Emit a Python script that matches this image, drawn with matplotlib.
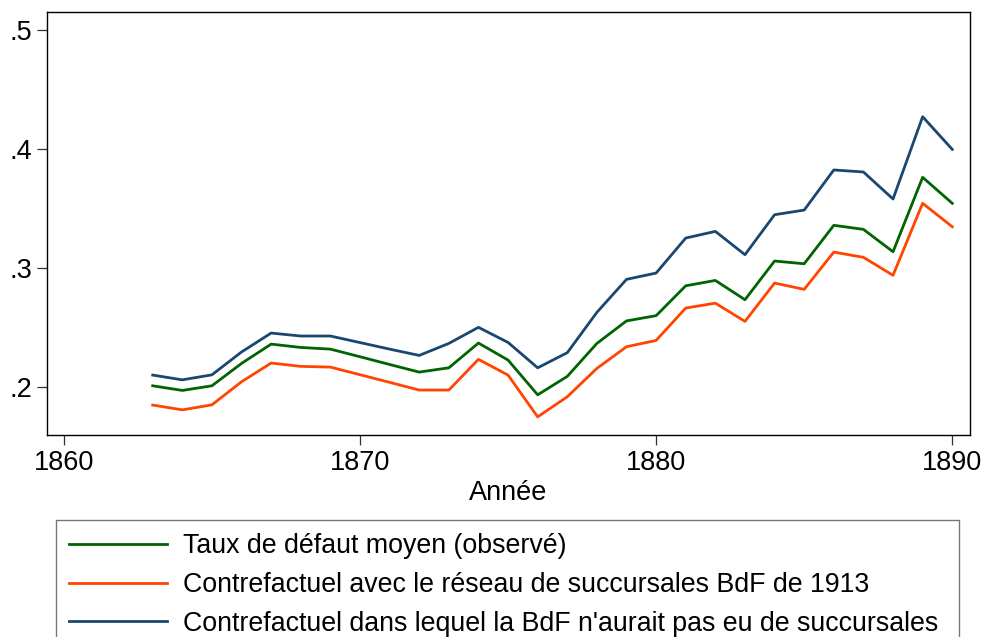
import matplotlib
matplotlib.use("Agg")
import matplotlib.pyplot as plt

plt.rcParams['font.family'] = ['Liberation Sans', 'DejaVu Sans']

years = list(range(1863, 1891))

observed = [0.2011, 0.1972, 0.2011, 0.2199, 0.2361, 0.2333, 0.2319, 0.2255, 0.2190,
            0.2126, 0.2162, 0.2370, 0.2227, 0.1935, 0.2090, 0.2367, 0.2556, 0.2600,
            0.2851, 0.2896, 0.2734, 0.3059, 0.3036, 0.3359, 0.3325, 0.3137, 0.3762, 0.3544]

network_1913 = [0.1849, 0.1809, 0.1851, 0.2045, 0.2202, 0.2174, 0.2168, 0.2104, 0.2040,
                0.1975, 0.1975, 0.2233, 0.2101, 0.1750, 0.1919, 0.2157, 0.2339, 0.2392,
                0.2664, 0.2705, 0.2552, 0.2874, 0.2821, 0.3134, 0.3090, 0.2939, 0.3544, 0.3347]

no_branches = [0.2101, 0.2061, 0.2103, 0.2295, 0.2454, 0.2429, 0.2429, 0.2374, 0.2319,
               0.2266, 0.2367, 0.2502, 0.2375, 0.2162, 0.2289, 0.2628, 0.2905, 0.2958,
               0.3252, 0.3308, 0.3112, 0.3448, 0.3487, 0.3824, 0.3807, 0.3580, 0.4271, 0.3997]

labels = ["Taux de défaut moyen (observé)",
          "Contrefactuel avec le réseau de succursales BdF de 1913",
          "Contrefactuel dans lequel la BdF n'aurait pas eu de succursales"]

fig = plt.figure(figsize=(9.83, 6.37), dpi=100)
ax = fig.add_axes([0.0478, 0.317, 0.939, 0.664])

ax.plot(years, observed, color='#006400', lw=2.0, label=labels[0])
ax.plot(years, network_1913, color='#ff4500', lw=2.0, label=labels[1])
ax.plot(years, no_branches, color='#1a476f', lw=2.0, label=labels[2])

ax.set_xlim(1859.43, 1890.6)
ax.set_ylim(0.1597, 0.515)
ax.set_xticks([1860, 1870, 1880, 1890])
ax.set_yticks([0.2, 0.3, 0.4, 0.5])
ax.set_yticklabels(['.2', '.3', '.4', '.5'])
ax.tick_params(labelsize=19.5, length=7, width=0.9, color='#333333', direction='out')
ax.set_xlabel("Année", fontsize=19.5, labelpad=3)
for s in ax.spines.values():
    s.set_linewidth(1.0)

top = 1 - 520/637
leg = fig.legend(loc='upper left', bbox_to_anchor=(56/983, top - 0.3, 903/983, 0.3),
                 mode='expand', fontsize=19.3, frameon=True, fancybox=False,
                 handlelength=3.65, handletextpad=0.6, labelspacing=0.47,
                 borderaxespad=0, borderpad=0.5)
leg.get_frame().set_edgecolor('#555555')
leg.get_frame().set_linewidth(1.0)

fig.savefig("out.png", dpi=100)
